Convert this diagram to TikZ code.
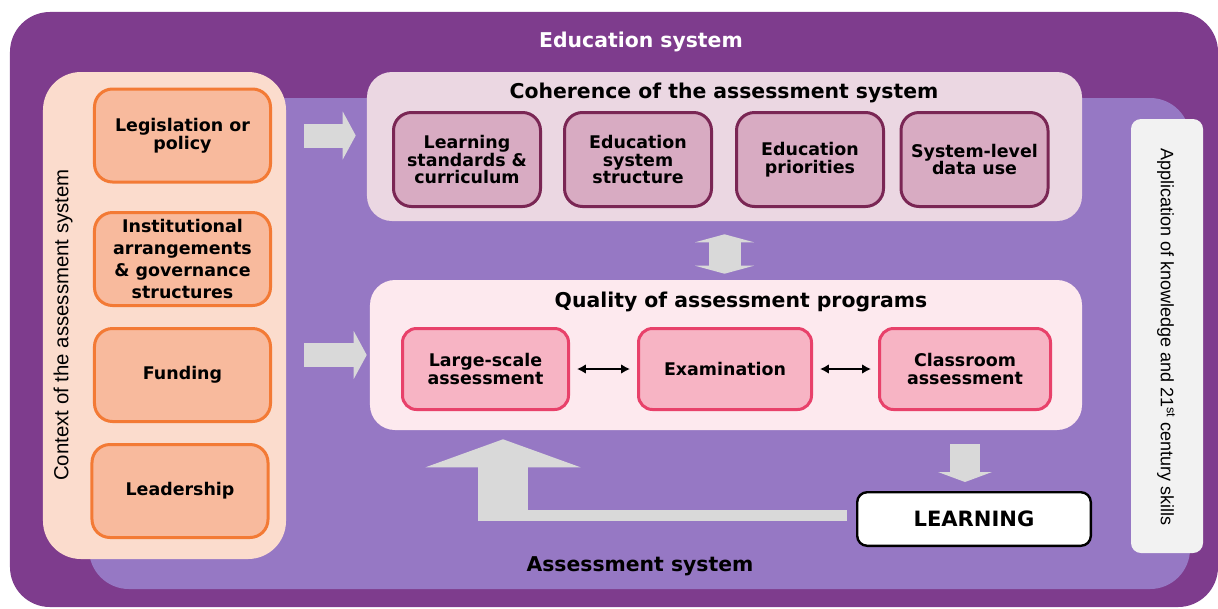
\documentclass[tikz,border=0pt]{standalone}
\usepackage{fontspec}
\setmainfont{DejaVu Sans}
\newfontfamily\sidefont{Liberation Sans}
\usepackage{xcolor}
\usetikzlibrary{
    arrows.meta,
    calc,
    positioning
}

\definecolor{eduPurple}{HTML}{7E3C8D}
\definecolor{assPurple}{HTML}{9678C4}
\definecolor{ctxFill}{HTML}{FBDCCD}
\definecolor{ctxBox}{HTML}{F8BA9D}
\definecolor{ctxLine}{HTML}{F37A35}
\definecolor{cohFill}{HTML}{EBD7E2}
\definecolor{cohBox}{HTML}{D8ABC2}
\definecolor{cohLine}{HTML}{7A2654}
\definecolor{qualFill}{HTML}{FDE9EE}
\definecolor{qualBox}{HTML}{F7B4C4}
\definecolor{qualLine}{HTML}{E8416A}
\definecolor{arrowGray}{HTML}{D9D9D9}
\definecolor{appFill}{HTML}{F2F2F2}

\tikzset{
    panel/.style={rectangle, inner sep=0pt},
    title/.style={inner sep=0pt, font=\bfseries\fontsize{14.5}{16}\selectfont},
    sidetext/.style={inner sep=0pt, font=\sidefont\fontsize{14.5}{16}\selectfont},
    ctxbox/.style={draw=ctxLine, fill=ctxBox, line width=0.75mm, rounded corners=4.5mm,
        minimum width=44mm, minimum height=23.25mm, align=center, inner sep=0pt,
        font=\bfseries\fontsize{12.4}{12.5}\selectfont},
    cohbox/.style={draw=cohLine, fill=cohBox, line width=0.75mm, rounded corners=4.5mm,
        minimum width=36.75mm, minimum height=23.5mm, align=center, inner sep=0pt,
        font=\bfseries\fontsize{12.4}{12.5}\selectfont},
    qualbox/.style={draw=qualLine, fill=qualBox, line width=0.75mm, rounded corners=3.5mm,
        minimum height=20.25mm, align=center, inner sep=0pt,
        font=\bfseries\fontsize{12.4}{12.5}\selectfont},
    pairarrow/.style={{Latex[length=2.2mm,width=2.4mm]}-{Latex[length=2.2mm,width=2.4mm]},
        line width=0.7mm, shorten <=1.75mm, shorten >=1.75mm},
    blockarrow/.style={draw=arrowGray}
}

\begin{document}
\begin{tikzpicture}[x=0.25mm, y=0.25mm]
    \useasboundingbox (0,0) rectangle (1218,-608);
    % frames
    \node[panel, fill=eduPurple, rounded corners=10mm, minimum width=302mm, minimum height=148.75mm] (edu) at (614,-309.5) {};
    \node[panel, fill=assPurple, rounded corners=10mm, minimum width=275.25mm, minimum height=122.75mm] (ass) at (639.5,-343.5) {};
    \node[panel, fill=ctxFill, rounded corners=9.5mm, minimum width=60.75mm, minimum height=121.75mm] (ctx) at (164.5,-315.5) {};
    \node[panel, fill=cohFill, rounded corners=6.25mm, minimum width=178.75mm, minimum height=37.25mm] (coh) at (724.5,-146.5) {};
    \node[panel, fill=qualFill, rounded corners=6.25mm, minimum width=178mm, minimum height=37.5mm] (qual) at (726,-355) {};
    \node[panel, fill=appFill, rounded corners=2.5mm, minimum width=18mm, minimum height=108.5mm] (app) at (1167,-336) {};

    % titles
    \node[title, text=white] (edutitle) at (641,-42) {Education system};
    \node[title] (cohtitle) at (724,-93) {Coherence of the assessment system};
    \node[title] (qualtitle) at (741,-302) {Quality of assessment programs};
    \node[title] (asstitle) at (640,-566) {Assessment system};
    \node[sidetext, rotate=90] (ctxtitle) at (63,-325) {Context of the assessment system};
    \node[sidetext, rotate=-90, font=\sidefont\fontsize{12.8}{14}\selectfont] (apptitle) at (1166,-337)
        {Application of knowledge and 21\textsuperscript{st} century skills};

    % context
    \node[ctxbox] (leg) at (182.5,-135.5) {Legislation or\\policy};
    \node[ctxbox, font=\bfseries\fontsize{12.4}{15.6}\selectfont] (inst) at (182.5,-259) {Institutional\\arrangements\\\& governance\\structures};
    \node[ctxbox] (fund) at (182.5,-375) {Funding};
    \node[ctxbox] (lead) at (180,-491) {Leadership};

    % coherence
    \node[cohbox] (lsc) at (467,-159.5) {Learning\\standards \&\\curriculum};
    \node[cohbox] (ess) at (638,-159.5) {Education\\system\\structure};
    \node[cohbox] (edp) at (810,-159.5) {Education\\priorities};
    \node[cohbox] (sdu) at (974.5,-159.5) {System-level\\data use};

    % quality
    \node[qualbox, minimum width=41.5mm] (lsa) at (485.5,-369) {Large-scale\\assessment};
    \node[qualbox, minimum width=43.25mm] (exam) at (725,-369) {Examination};
    \node[qualbox, minimum width=42.75mm] (cls) at (965,-369) {Classroom\\assessment};
    \draw[pairarrow] (lsa) -- (exam);
    \draw[pairarrow] (exam) -- (cls);

    \node[draw=black, fill=white, line width=0.6mm, rounded corners=2.5mm, minimum width=58.4mm, minimum height=13.4mm,
        font=\bfseries\fontsize{15}{17}\selectfont] (learn) at (974,-519) {LEARNING};

    % block arrows
    \draw[blockarrow, line width=6mm, -{Triangle[width=12mm,length=3.25mm,line width=0pt]}]
        ([xshift=4.5mm]ctx.east |- leg) -- ([xshift=-2.75mm]coh.west |- leg);
    \draw[blockarrow, line width=6mm, -{Triangle[width=12mm,length=3.25mm,line width=0pt]}]
        ([xshift=4.5mm]ctx.east |- qual) -- ([xshift=-0.75mm]qual.west);
    \draw[blockarrow, line width=8mm, {Triangle[width=14.75mm,length=2mm,line width=0pt]}-{Triangle[width=14.75mm,length=2mm,line width=0pt]},
        shorten <=3.25mm, shorten >=1.5mm] (coh.south) -- (coh.south |- qual.north);
    \draw[blockarrow, line width=7.5mm, -{Triangle[width=13.5mm,length=2.5mm,line width=0pt]},
        shorten <=3.5mm, shorten >=2.25mm] (cls.south |- qual.south) -- (cls.south |- learn.north);
    \coordinate (upfoot) at (503,-521);
    \coordinate (upbar) at (478,-515.5);
    \draw[blockarrow, line width=2.75mm, shorten >=2.25mm] (upbar) -- (upbar -| learn.west);
    \draw[blockarrow, line width=12.5mm, -{Triangle[width=38.75mm,length=7mm,line width=0pt]},
        shorten >=2.25mm] (upfoot) -- (upfoot |- qual.south);
\end{tikzpicture}
\end{document}
